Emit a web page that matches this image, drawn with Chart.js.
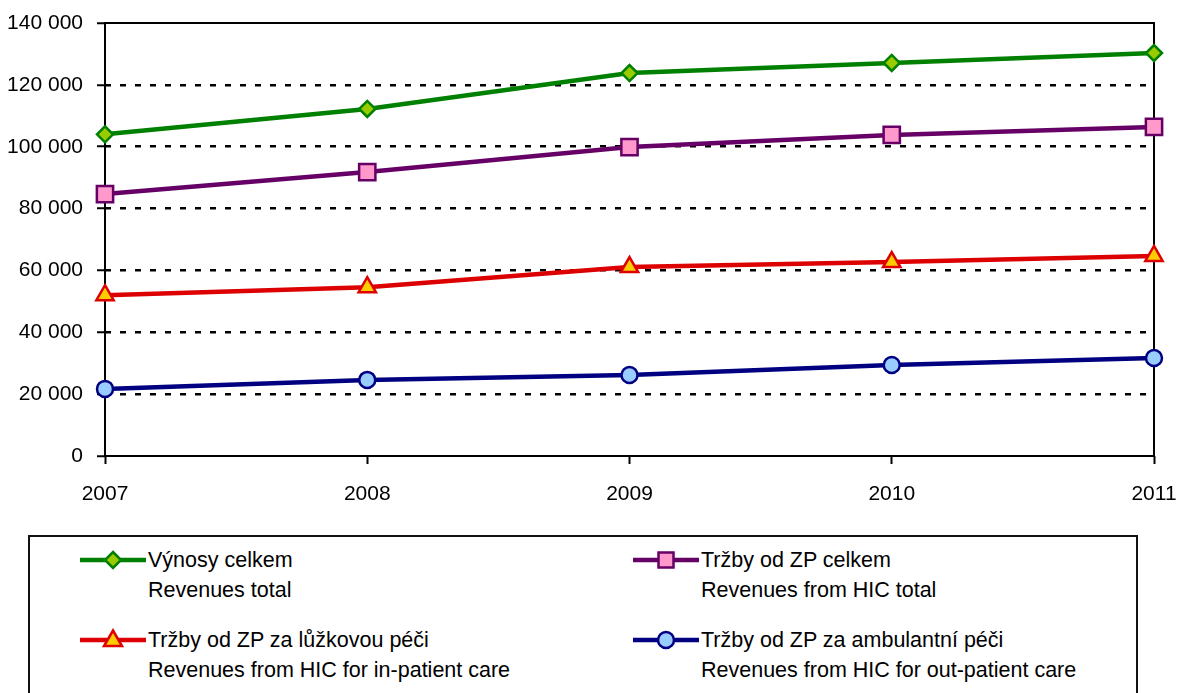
<!DOCTYPE html>
<html>
<head>
<meta charset="utf-8">
<script src="https://cdn.jsdelivr.net/npm/chart.js@4"></script>
<style>
  body { margin: 0; background: #fff; font-family: "Liberation Sans", Arial, sans-serif; }
  #wrap { position: relative; width: 1179px; height: 693px; overflow: hidden; }
  #chartBox { position: absolute; left: 0; top: 0; width: 1179px; height: 530px; }
  #legend { position: absolute; left: 28px; top: 535px; width: 1106px; height: 200px; border: 2px solid #111; }
  .item { position: absolute; display: flex; align-items: flex-start; }
  .item svg { margin-top: 0; margin-right: 2px; }
  .item .txt { font-size: 21.5px; line-height: 30px; color: #000; }
</style>
</head>
<body>
<div id="wrap">
  <div id="chartBox"><canvas id="revChart"></canvas></div>
  <div id="legend"></div>
</div>
<script>
// ── Data ──
const years = ['2007', '2008', '2009', '2010', '2011'];
const revenuesTotal = [104000, 112200, 123800, 127100, 130300];
const hicTotal = [84700, 91800, 99900, 103800, 106400];
const hicInPatient = [52000, 54600, 61100, 62700, 64700];
const hicOutPatient = [21700, 24600, 26200, 29400, 31700];
const yTicks = [0, 20000, 40000, 60000, 80000, 100000, 120000, 140000];

const labelsTotal = ['Výnosy celkem', 'Revenues total'];
const labelsHic = ['Tržby od ZP celkem', 'Revenues from HIC total'];
const labelsIn = ['Tržby od ZP za lůžkovou péči', 'Revenues from HIC for in-patient care'];
const labelsOut = ['Tržby od ZP za ambulantní péči', 'Revenues from HIC for out-patient care'];

const SERIES = [
  { data: revenuesTotal, names: labelsTotal, line: '#008000', fill: '#99cc00', style: 'rectRot', r: 8 },
  { data: hicTotal, names: labelsHic, line: '#660066', fill: '#ff99cc', style: 'rect', r: 11.5 },
  { data: hicInPatient, names: labelsIn, line: '#dd0000', fill: '#ffcc00', style: 'triangle', r: 10 },
  { data: hicOutPatient, names: labelsOut, line: '#000080', fill: '#99ccff', style: 'circle', r: 8 }
];

function fmt(v) { return String(v).replace(/\B(?=(\d{3})+(?!\d))/g, ' '); }

// plot frame drawn solid
const frame = {
  id: 'frame',
  beforeDatasetsDraw(chart) {
    const { ctx, chartArea: a } = chart;
    ctx.save();
    ctx.strokeStyle = '#000';
    ctx.lineWidth = 2;
    ctx.strokeRect(a.left, a.top, a.right - a.left, a.bottom - a.top);
    ctx.restore();
  }
};

new Chart(document.getElementById('revChart'), {
  type: 'line',
  data: {
    labels: years,
    datasets: SERIES.map(s => ({
      label: s.names.join(' '),
      data: s.data,
      borderColor: s.line,
      borderWidth: 4.5,
      backgroundColor: s.fill,
      pointStyle: s.style,
      pointRadius: s.r,
      pointHoverRadius: s.r,
      pointBackgroundColor: s.fill,
      pointBorderColor: s.line,
      pointBorderWidth: 2.5,
      tension: 0,
      fill: false
    }))
  },
  plugins: [frame],
  options: {
    responsive: true,
    maintainAspectRatio: false,
    animation: false,
    layout: { padding: { left: 0, right: 25, top: 23, bottom: 0 } },
    plugins: { legend: { display: false }, tooltip: { enabled: false } },
    scales: {
      x: {
        offset: false,
        afterFit: s => { s.height = 74; s.paddingLeft = 0; s.paddingRight = 0; },
        grid: { drawOnChartArea: false, drawTicks: true, tickLength: 8, tickWidth: 2, tickColor: '#000', color: '#000' },
        border: { display: false },
        ticks: { color: '#000', padding: 18, maxRotation: 0, font: { family: 'Liberation Sans', size: 21 } }
      },
      y: {
        min: 0, max: 140000,
        afterFit: s => { s.width = 105; s.paddingTop = 0; s.paddingBottom = 0; },
        afterBuildTicks: s => { s.ticks = yTicks.map(v => ({ value: v })); },
        grid: {
          color: ctx => (ctx.tick && (ctx.tick.value === 0 || ctx.tick.value === 140000)) ? 'rgba(0,0,0,0)' : '#000',
          lineWidth: 2.5, tickLength: 8, tickWidth: 2, tickColor: '#000', borderDash: [6, 9], tickBorderDash: []
        },
        border: { display: false, dash: [6, 9] },
        ticks: { color: '#000', padding: 14, callback: v => fmt(v), font: { family: 'Liberation Sans', size: 21 } }
      }
    }
  }
});

// ── Legend ──
function markerSvg(s) {
  const cx = 33, cy = 15;
  let m = '';
  if (s.style === 'rectRot') m = `<polygon points="${cx},${cy - 8} ${cx + 8},${cy} ${cx},${cy + 8} ${cx - 8},${cy}" />`;
  else if (s.style === 'rect') m = `<rect x="${cx - 7.5}" y="${cy - 7.5}" width="15" height="15" />`;
  else if (s.style === 'triangle') m = `<polygon points="${cx},${cy - 9.5} ${cx + 9},${cy + 6} ${cx - 9},${cy + 6}" />`;
  else m = `<circle cx="${cx}" cy="${cy}" r="8" />`;
  return `<svg width="66" height="30"><line x1="0" y1="${cy}" x2="66" y2="${cy}" stroke="${s.line}" stroke-width="4.5" stroke-linecap="round"/>` +
    `<g fill="${s.fill}" stroke="${s.line}" stroke-width="2.5">${m}</g></svg>`;
}

const pos = [[50, 8], [603, 8], [50, 88], [603, 88]];
const legend = document.getElementById('legend');
SERIES.forEach((s, i) => {
  const d = document.createElement('div');
  d.className = 'item';
  d.style.left = pos[i][0] + 'px';
  d.style.top = pos[i][1] + 'px';
  d.innerHTML = markerSvg(s) + `<div class="txt">${s.names[0]}<br>${s.names[1]}</div>`;
  legend.appendChild(d);
});
</script>
</body>
</html>
